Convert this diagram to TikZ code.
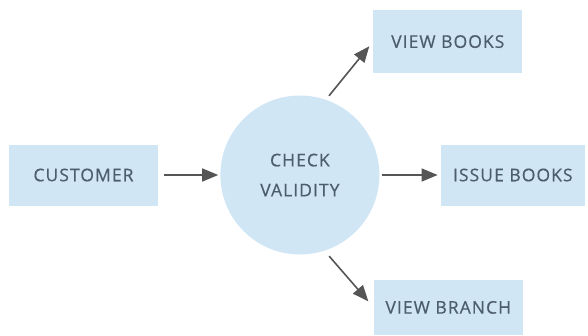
\documentclass[tikz,border=0pt]{standalone}
\usepackage{fontspec}
\setmainfont[LetterSpace=6,FakeBold=0.5]{Open Sans}
\usetikzlibrary{arrows.meta,positioning}
\definecolor{boxblue}{HTML}{D0E6F4}
\definecolor{inkgray}{HTML}{4C5D6E}
\definecolor{arrowgray}{HTML}{555555}

\begin{document}
\begin{tikzpicture}[x=1pt,y=-1pt,
  every node/.style={font=\fontsize{17.5}{30}\selectfont,text=inkgray},
  entity/.style={fill=boxblue,minimum width=149pt,minimum height=61pt,inner sep=0pt},
  process/.style={circle,fill=boxblue,minimum size=159pt,inner sep=0pt,align=center},
  flow/.style={-{Triangle[length=16pt,width=13pt]},draw=arrowgray,line width=1.6pt}]
  \useasboundingbox (0,0) rectangle (588,335);
  \node[entity]  (cust)  at (83.5,175) {CUSTOMER};
  \node[process] (check) [right=62pt of cust] {CHECK\\VALIDITY};
  \node[entity,minimum width=144pt] (issue) [right=61pt of check] {ISSUE BOOKS};
  \node[entity,minimum height=63pt] (viewb) [above=71pt of issue,xshift=-65pt] {VIEW BOOKS};
  \node[entity,minimum height=55pt] (vbranch) [below=74pt of issue,xshift=-64.5pt] {VIEW BRANCH};

  \draw[flow,shorten <=6pt,shorten >=2pt] (cust) -- (check);
  \draw[flow,shorten <=2pt,shorten >=3pt] (check) -- (issue);
  \draw[flow,shorten <=5pt,shorten >=6pt] (check.71) -- (viewb.west);
  \draw[flow,shorten <=7pt,shorten >=8pt] (check.288) -- (vbranch.west);
\end{tikzpicture}
\end{document}
